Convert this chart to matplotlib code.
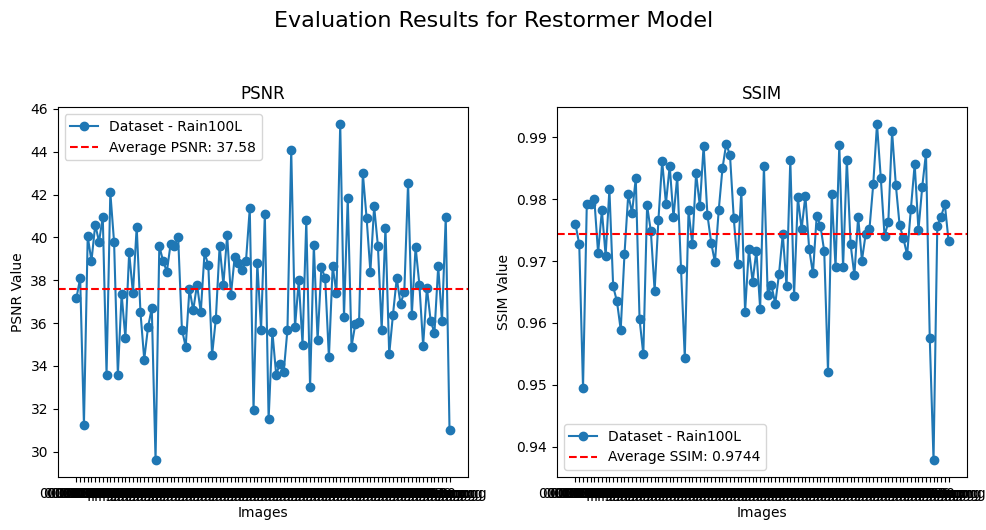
import numpy as np
from matplotlib import pyplot as plt

image_names = [f"{i:05d}.png" for i in range(1, 101)]

psnr_values = [
    37.16, 38.1, 31.26, 40.05, 38.9, 40.6, 39.8, 40.95, 33.6, 42.1,
    39.77, 33.6, 37.35, 35.3, 39.3, 37.4, 40.5, 36.5, 34.3, 35.8,
    36.7, 29.6, 39.6, 38.9, 38.4, 39.7, 39.6, 40.0, 35.7, 34.9,
    37.6, 36.6, 37.8, 36.5, 39.3, 38.7, 34.5, 36.2, 39.6, 37.8,
    40.1, 37.3, 39.1, 38.8, 38.5, 38.9, 41.35, 31.95, 38.8, 35.7,
    41.1, 31.5, 35.6, 33.6, 34.1, 33.7, 35.7, 44.1, 35.8, 38.0,
    35.0, 40.8, 33.0, 39.65, 35.2, 38.6, 38.1, 34.4, 38.65, 37.4,
    45.3, 36.3, 41.85, 34.9, 35.95, 36.05, 43.0, 40.9, 38.4, 41.45,
    39.6, 35.7, 40.45, 34.55, 36.4, 38.1, 36.9, 37.45, 42.55, 36.4,
    39.55, 37.8, 34.95, 37.65, 36.1, 35.55, 38.65, 36.1, 40.95, 31.0,
]

ssim_values = [
    0.9760, 0.9727, 0.9495, 0.9792, 0.9792, 0.9800, 0.9713, 0.9782, 0.9709, 0.9816,
    0.9659, 0.9635, 0.9589, 0.9711, 0.9808, 0.9778, 0.9834, 0.9606, 0.9549, 0.9790,
    0.9748, 0.9652, 0.9766, 0.9862, 0.9793, 0.9854, 0.9771, 0.9837, 0.9688, 0.9544,
    0.9782, 0.9727, 0.9842, 0.9789, 0.9887, 0.9775, 0.9730, 0.9698, 0.9782, 0.9850,
    0.9890, 0.9871, 0.9769, 0.9695, 0.9814, 0.9618, 0.9719, 0.9667, 0.9717, 0.9623,
    0.9854, 0.9646, 0.9661, 0.9631, 0.9679, 0.9744, 0.9659, 0.9864, 0.9644, 0.9803,
    0.9752, 0.9806, 0.9720, 0.9680, 0.9773, 0.9757, 0.9716, 0.9521, 0.9808, 0.9690,
    0.9888, 0.9690, 0.9864, 0.9727, 0.9677, 0.9772, 0.9701, 0.9744, 0.9752, 0.9824,
    0.9922, 0.9835, 0.9741, 0.9763, 0.9910, 0.9823, 0.9758, 0.9737, 0.9710, 0.9785,
    0.9857, 0.9750, 0.9820, 0.9875, 0.9575, 0.9378, 0.9757, 0.9772, 0.9792, 0.9732,
]

avg_psnr = 37.58
avg_ssim = 0.9744

fig, (ax1, ax2) = plt.subplots(1, 2, figsize=(9.87, 5.3), dpi=100)
fig.subplots_adjust(left=0.0585, right=0.980, bottom=0.100, top=0.798, wspace=0.216)
fig.suptitle("Evaluation Results for Restormer Model", fontsize=16)

ax1.plot(image_names, psnr_values, marker='o', label='Dataset - Rain100L')
ax1.axhline(avg_psnr, color='r', linestyle='--', label=f'Average PSNR: {avg_psnr:.2f}')
ax1.set_title("PSNR")
ax1.set_xlabel("Images")
ax1.set_ylabel("PSNR Value")
ax1.legend(loc='upper left')

ax2.plot(image_names, ssim_values, marker='o', label='Dataset - Rain100L')
ax2.axhline(avg_ssim, color='r', linestyle='--', label=f'Average SSIM: {avg_ssim:.4f}')
ax2.set_title("SSIM")
ax2.set_xlabel("Images")
ax2.set_ylabel("SSIM Value")
ax2.legend(loc='lower left')

plt.savefig("out.png", dpi=100)
